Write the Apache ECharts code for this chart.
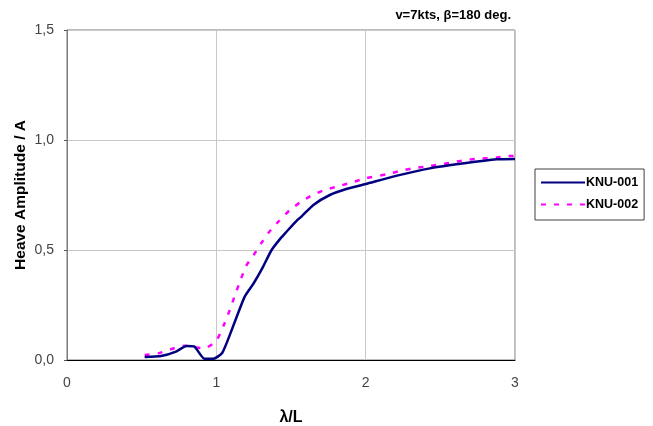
<!DOCTYPE html>
<html>
<head>
<meta charset="utf-8">
<style>
  html, body { margin: 0; padding: 0; background: #fff; }
  #chart { width: 653px; height: 426px; }
</style>
<script src="https://cdn.jsdelivr.net/npm/echarts@6/dist/echarts.min.js"></script>
</head>
<body>
<div id="chart"></div>
<script>
// Heave amplitude vs wave length ratio, two hull variants
const knu001X = [0.52, 0.63, 0.73, 0.80, 0.85, 0.92, 0.98, 1.04, 1.11, 1.19, 1.25, 1.31, 1.37, 1.43, 1.47, 1.54, 1.57, 1.65, 1.76, 1.87, 2.00, 2.21, 2.43, 2.66, 2.88, 3.00];
const knu001Y = [0.014, 0.018, 0.038, 0.064, 0.062, 0.006, 0.006, 0.033, 0.149, 0.288, 0.349, 0.420, 0.500, 0.553, 0.583, 0.635, 0.652, 0.705, 0.750, 0.777, 0.800, 0.838, 0.871, 0.894, 0.912, 0.914];

const knu002X = [0.52, 0.61, 0.70, 0.79, 0.84, 0.92, 1.00, 1.05, 1.09, 1.125, 1.16, 1.20, 1.25, 1.30, 1.355, 1.42, 1.49, 1.56, 1.65, 1.74, 1.83, 1.91, 2.00, 2.14, 2.23, 2.31, 2.40, 2.49, 2.57, 2.66, 2.74, 2.88, 2.96, 3.00];
const knu002Y = [0.023, 0.030, 0.050, 0.065, 0.060, 0.053, 0.088, 0.159, 0.227, 0.295, 0.360, 0.428, 0.477, 0.530, 0.583, 0.632, 0.680, 0.716, 0.752, 0.776, 0.792, 0.808, 0.826, 0.844, 0.859, 0.871, 0.879, 0.888, 0.897, 0.908, 0.914, 0.921, 0.927, 0.928];

const seriesNames = ['KNU-001', 'KNU-002'];
const titleText = 'v=7kts, β=180 deg.';
const xAxisName = 'λ/L';
const yAxisName = 'Heave Amplitude / A';

const pairs = (xs, ys) => xs.map((x, i) => [x, ys[i]]);
const commaDecimal = v => v.toFixed(1).replace('.', ',');

const chart = echarts.init(document.getElementById('chart'), null, { renderer: 'canvas' });
chart.setOption({
  backgroundColor: '#ffffff',
  animation: false,
  textStyle: { fontFamily: 'Liberation Sans, Arial, sans-serif' },
  title: {
    text: titleText,
    right: 137,
    top: 4,
    textStyle: { fontSize: 13, fontWeight: 'bold', color: '#000' }
  },
  legend: {
    orient: 'vertical',
    left: 535,
    top: 169,
    padding: [7, 6, 9, 5],
    itemGap: 9,
    itemWidth: 44,
    itemHeight: 14,
    borderColor: '#404040',
    borderWidth: 1,
    itemStyle: { opacity: 0 },
    textStyle: { fontSize: 12.5, fontWeight: 'bold', color: '#000', padding: [0, 0, 0, -4] },
    data: seriesNames
  },
  grid: {
    left: 67, right: 138, top: 30, bottom: 66,
    outerBoundsMode: 'none',
    containLabel: false,
    show: true, borderColor: '#7a7a7a', borderWidth: 1
  },
  xAxis: {
    type: 'value',
    min: 0, max: 3, interval: 1,
    name: xAxisName,
    nameLocation: 'middle',
    nameGap: 50,
    nameMoveOverlap: false,
    nameTextStyle: { fontSize: 16, fontWeight: 'bold', color: '#000' },
    axisLine: { show: true, lineStyle: { color: '#000', width: 1 } },
    axisTick: { show: false },
    axisLabel: { fontSize: 14, color: '#444', margin: 16 },
    splitLine: { show: true, lineStyle: { color: '#c8c8c8', width: 1 } }
  },
  yAxis: {
    type: 'value',
    min: 0, max: 1.5, interval: 0.5,
    name: yAxisName,
    nameLocation: 'middle',
    nameGap: 38,
    nameMoveOverlap: false,
    nameTextStyle: { fontSize: 15.5, fontWeight: 'bold', color: '#000' },
    axisLine: { show: true, lineStyle: { color: '#7a7a7a', width: 1 } },
    axisTick: { show: true, length: 3, lineStyle: { color: '#555' } },
    axisLabel: { fontSize: 14, color: '#444', margin: 13, formatter: commaDecimal },
    splitLine: { show: true, lineStyle: { color: '#c8c8c8', width: 1 } }
  },
  series: [
    {
      name: seriesNames[0],
      type: 'line',
      data: pairs(knu001X, knu001Y),
      symbol: 'none',
      smooth: 0.2,
      z: 3,
      lineStyle: { color: '#000080', width: 2.5 },
      itemStyle: { color: '#000080' }
    },
    {
      name: seriesNames[1],
      type: 'line',
      data: pairs(knu002X, knu002Y),
      symbol: 'none',
      smooth: 0.2,
      z: 2,
      lineStyle: { color: '#ff00ff', width: 2.5, type: [5, 8] },
      itemStyle: { color: '#ff00ff' }
    }
  ]
});
</script>
</body>
</html>
